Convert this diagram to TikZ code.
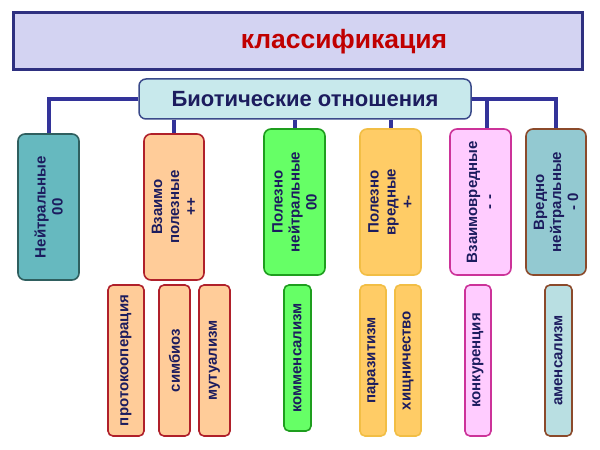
\documentclass[tikz,border=0pt]{standalone}
\usepackage{fontspec}
\setmainfont{Liberation Sans}
\definecolor{txt}{HTML}{1C1C5E}
\definecolor{conncol}{HTML}{333399}
\definecolor{framefill}{HTML}{D3D3F2}
\definecolor{framedraw}{HTML}{2E3080}
\definecolor{titlered}{HTML}{C00000}
\definecolor{biofill}{HTML}{C8E9EC}
\definecolor{biodraw}{HTML}{3A4A8A}
\definecolor{tealfill}{HTML}{66B9BF}
\definecolor{tealdraw}{HTML}{2F5F5F}
\definecolor{peachfill}{HTML}{FFCC99}
\definecolor{peachdraw}{HTML}{B0202A}
\definecolor{greenfill}{HTML}{66FF66}
\definecolor{greendraw}{HTML}{1E9E1E}
\definecolor{yelfill}{HTML}{FFCC66}
\definecolor{yeldraw}{HTML}{F2BE45}
\definecolor{pinkfill}{HTML}{FFCCFF}
\definecolor{pinkdraw}{HTML}{CC3399}
\definecolor{grayfill}{HTML}{93C9D1}
\definecolor{browndraw}{HTML}{8B4A2B}
\definecolor{lightfill}{HTML}{B9DFE2}
\tikzset{
  conn/.style={draw=conncol, line width=4pt},
  mainbox/.style={rotate=90, rounded corners=7pt, line width=1.6pt, inner sep=0pt,
    minimum width=146pt, align=center, text=txt,
    font=\bfseries\fontsize{15}{17}\selectfont},
  subbox/.style={rotate=90, rounded corners=5pt, line width=1.6pt, inner sep=0pt,
    minimum width=151pt, text=txt, font=\bfseries\fontsize{15}{17}\selectfont},
}
\begin{document}
\begin{tikzpicture}[x=1pt,y=1pt]
\useasboundingbox (0,0) rectangle (600,450);
\fill[white] (0,0) rectangle (600,450);
% frame
\node[draw=framedraw, fill=framefill, line width=3pt, minimum width=569pt, minimum height=57pt, inner sep=0pt] (frame) at (297.5,408.5) {};
\node[text=titlered, font=\bfseries\fontsize{26.5}{30}\selectfont, inner sep=0pt] (title) at (344,408) {классификация};
% biotic
\node[draw=biodraw, fill=biofill, line width=1.5pt, rounded corners=7pt, minimum width=332pt, minimum height=40pt, inner sep=0pt, text=txt, font=\bfseries\fontsize{22}{26}\selectfont] (bio) at (305,351) {Биотические отношения};
% main boxes
\node[mainbox, draw=tealdraw, fill=tealfill, minimum height=61pt] (n1) at (48.5,243) {Нейтральные\\00};
\node[mainbox, draw=peachdraw, fill=peachfill, minimum height=60pt] (n2) at (174,243) {Взаимо\\полезные\\++};
\node[mainbox, draw=greendraw, fill=greenfill, minimum height=61pt] (n3) at (294.5,248) {Полезно\\нейтральные\\00};
\node[mainbox, draw=yeldraw, fill=yelfill, minimum height=61pt] (n4) at (390.5,248) {Полезно\\вредные\\+-};
\node[mainbox, draw=pinkdraw, fill=pinkfill, minimum height=61pt] (n5) at (480.5,248) {Взаимовредные\\- -};
\node[mainbox, draw=browndraw, fill=grayfill, minimum height=60pt] (n6) at (556,248) {Вредно\\нейтральные\\- 0};
% sub boxes
\node[subbox, draw=peachdraw, fill=peachfill, minimum height=36pt] (s1) at (126,89.5) {протокооперация};
\node[subbox, draw=peachdraw, fill=peachfill, minimum height=31pt] (s2) at (174.5,89.5) {симбиоз};
\node[subbox, draw=peachdraw, fill=peachfill, minimum height=31pt] (s3) at (214.5,89.5) {мутуализм};
\node[subbox, draw=greendraw, fill=greenfill, minimum height=27pt, minimum width=146pt] (s4) at (297.5,92) {комменсализм};
\node[subbox, draw=yeldraw, fill=yelfill, minimum height=26pt] (s5) at (373,89.5) {паразитизм};
\node[subbox, draw=yeldraw, fill=yelfill, minimum height=26pt] (s6) at (408,89.5) {хищничество};
\node[subbox, draw=pinkdraw, fill=pinkfill, minimum height=26pt] (s7) at (478,89.5) {конкуренция};
\node[subbox, draw=browndraw, fill=lightfill, minimum height=27pt] (s8) at (558.5,89.5) {аменсализм};
% connectors
\draw[conn] (bio.west) -| (n1.east);
\draw[conn] (bio.east) -| (n6.east);
\draw[conn] (bio.east) -| ([xshift=6.5pt]n5.east);
\draw[conn] (bio.south -| n2.east) -- (n2.east);
\draw[conn] (bio.south -| n3.east) -- (n3.east);
\draw[conn] (bio.south -| n4.east) -- (n4.east);
\end{tikzpicture}
\end{document}
